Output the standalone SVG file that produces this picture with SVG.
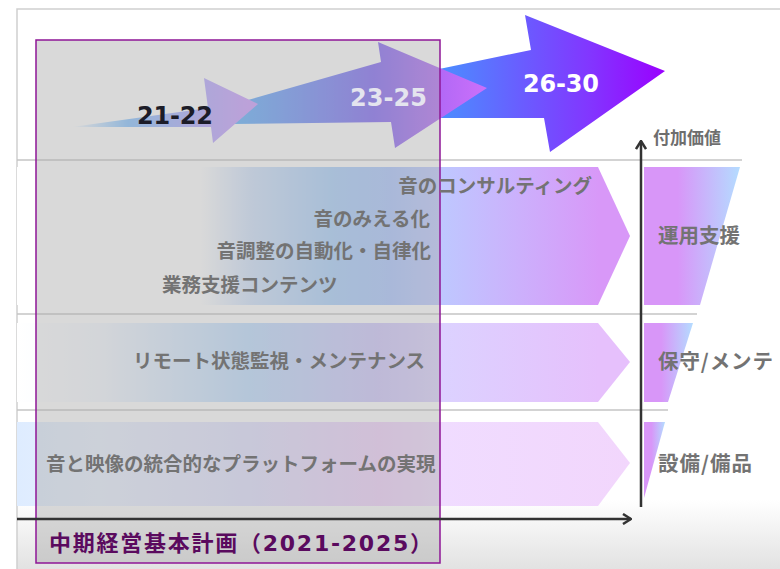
<svg xmlns="http://www.w3.org/2000/svg" width="780" height="569" viewBox="0 0 780 569">
<style>
.frame{fill:none;stroke:#cfcfcf;stroke-width:1.5}
.sep{stroke:#c4c4c4;stroke-width:1.5;fill:none}
.axis{stroke:#333;stroke-width:2.5;fill:none}
.yr{font-family:"DejaVu Sans","Open Sans",sans-serif;font-weight:bold;font-size:24px}
.jp{font-family:"Noto Sans CJK JP","Noto Sans",sans-serif;font-weight:bold;font-size:19.5px;fill:#737373}
.lbl{font-family:"Noto Sans CJK JP","Noto Sans",sans-serif;font-weight:bold;font-size:20.5px;fill:#737373}
.small{font-family:"Noto Sans CJK JP","Noto Sans",sans-serif;font-weight:bold;font-size:17px;fill:#6e6e6e}
.title{font-family:"DejaVu Sans","Noto Sans CJK JP",sans-serif;font-weight:bold;font-size:22px;fill:#5a0a5e}
</style>
<defs>
<linearGradient id="gBottom" x1="0" y1="0" x2="0" y2="1"><stop offset="0" stop-color="#ffffff"/><stop offset="1" stop-color="#e2e2e2"/></linearGradient>
<linearGradient id="gA1" gradientUnits="userSpaceOnUse" x1="72" y1="0" x2="258" y2="0">
<stop offset="0" stop-color="#80c0ff" stop-opacity="0"/>
<stop offset="0.3" stop-color="#80c0ff"/>
<stop offset="0.7" stop-color="#b0a4ff"/>
<stop offset="1" stop-color="#d098ff"/>
</linearGradient>
<linearGradient id="gA2" gradientUnits="userSpaceOnUse" x1="235" y1="0" x2="487" y2="0">
<stop offset="0" stop-color="#58b0fc"/>
<stop offset="0.55" stop-color="#7a60f4"/>
<stop offset="0.8" stop-color="#b068f6"/>
<stop offset="1" stop-color="#cc70fa"/>
</linearGradient>
<linearGradient id="gA3" gradientUnits="userSpaceOnUse" x1="443" y1="0" x2="665" y2="0">
<stop offset="0" stop-color="#4c8cff"/>
<stop offset="0.36" stop-color="#6a5cff"/>
<stop offset="0.66" stop-color="#8236ff"/>
<stop offset="1" stop-color="#9a00ff"/>
</linearGradient>
<linearGradient id="gR1" gradientUnits="userSpaceOnUse" x1="17" y1="0" x2="630" y2="0">
<stop offset="0" stop-color="#ffffff"/>
<stop offset="0.30" stop-color="#ffffff"/>
<stop offset="0.38" stop-color="#d0e2fc"/>
<stop offset="0.515" stop-color="#a6cefc"/>
<stop offset="0.61" stop-color="#a8c4ff"/>
<stop offset="0.69" stop-color="#bec8ff"/>
<stop offset="0.82" stop-color="#ccb0fc"/>
<stop offset="0.95" stop-color="#d898f8"/>
<stop offset="1" stop-color="#d898f8"/>
</linearGradient>
<linearGradient id="gR2" gradientUnits="userSpaceOnUse" x1="17" y1="0" x2="630" y2="0">
<stop offset="0" stop-color="#ffffff"/>
<stop offset="0.135" stop-color="#f4f8ff"/>
<stop offset="0.38" stop-color="#bcdcff"/>
<stop offset="0.59" stop-color="#cec5fc"/>
<stop offset="0.69" stop-color="#dcd2ff"/>
<stop offset="0.95" stop-color="#e6c0fc"/>
<stop offset="1" stop-color="#e6c0fc"/>
</linearGradient>
<linearGradient id="gR3" gradientUnits="userSpaceOnUse" x1="17" y1="0" x2="630" y2="0">
<stop offset="0" stop-color="#deecff"/>
<stop offset="0.135" stop-color="#e8f0ff"/>
<stop offset="0.38" stop-color="#e0e0ff"/>
<stop offset="0.59" stop-color="#f0d0fc"/>
<stop offset="0.69" stop-color="#f0dcff"/>
<stop offset="1" stop-color="#f2d6fc"/>
</linearGradient>
<linearGradient id="gT" x1="0" y1="0" x2="1" y2="0">
<stop offset="0" stop-color="#d896f8"/>
<stop offset="0.35" stop-color="#d896f8"/>
<stop offset="1" stop-color="#b4dcff"/>
</linearGradient>
<marker id="chev" viewBox="0 0 10 12" refX="9" refY="6" markerWidth="10" markerHeight="12" markerUnits="userSpaceOnUse" orient="auto">
<path d="M1,1 L9,6 L1,11" fill="none" stroke="#333" stroke-width="2.5"/>
</marker>
</defs>

<rect x="0" y="0" width="780" height="569" fill="#ffffff"/>
<rect x="17" y="500" width="763" height="69" fill="url(#gBottom)"/>
<path class="frame" d="M17,569 L17,9 L780,9"/>

<g id="row1"><polygon points="17,167 598,167 630,236 598,305 17,305" fill="url(#gR1)"/></g>
<g id="row2"><polygon points="17,323 598,323 630,362 598,402 17,402" fill="url(#gR2)"/></g>
<g id="row3"><polygon points="17,422 598,422 630,463 598,506 17,506" fill="url(#gR3)"/></g>

<g id="lines">
<line class="sep" x1="17" y1="160" x2="742" y2="160"/>
<line class="sep" x1="17" y1="314" x2="697" y2="314"/>
<line class="sep" x1="17" y1="410" x2="668" y2="410"/>
</g>

<g id="arrow-26-30"><polygon points="420,73 531,50 525,15 665,71 550,152 544,118 420,118" fill="url(#gA3)"/></g>
<g id="arrow-23-25"><polygon points="232,124 248,100 381,62 378,42 487,88 395,148 391,122" fill="url(#gA2)"/></g>
<g id="arrow-21-22"><polygon points="72,127 208,108 204,78 258,104 213,143 211,127" fill="url(#gA1)"/></g>

<g id="tier-ops"><polygon points="644,167 740,167 700,305 644,305" fill="url(#gT)"/></g>
<g id="tier-maint"><polygon points="644,323 693,323 668,402 644,402" fill="url(#gT)"/></g>
<g id="tier-equip"><polygon points="644,422 665,422 644,498" fill="url(#gT)"/></g>

<g id="plan-overlay"><rect x="36" y="40" width="404" height="523" fill="#aaaaaa" fill-opacity="0.45" stroke="#8e1696" stroke-width="1.5"/></g>

<g id="connectors">
<line class="axis" x1="17" y1="519" x2="631" y2="519" marker-end="url(#chev)"/>
<line class="axis" x1="641" y1="507" x2="641" y2="141" marker-end="url(#chev)"/>
</g>

<g id="labels">
<text class="yr" x="137" y="124" fill="#1c1c28" textLength="76">21-22</text>
<text class="yr" x="350" y="106" fill="#e4e4ee" textLength="77">23-25</text>
<text class="yr" x="523" y="92" fill="#ffffff" textLength="76">26-30</text>

<text class="jp" x="592" y="193" text-anchor="end">音のコンサルティング</text>
<text class="jp" x="430" y="226" text-anchor="end">音のみえる化</text>
<text class="jp" x="431" y="258" text-anchor="end">音調整の自動化・自律化</text>
<text class="jp" x="162" y="292">業務支援コンテンツ</text>
<text class="jp" x="133" y="368">リモート状態監視・メンテナンス</text>
<text class="jp" x="46" y="471">音と映像の統合的なプラットフォームの実現</text>

<text class="lbl" x="658" y="243" textLength="82">運用支援</text>
<text class="lbl" x="658" y="369" textLength="115" lengthAdjust="spacing">保守/メンテ</text>
<text class="lbl" x="658" y="471" textLength="94" lengthAdjust="spacing">設備/備品</text>
<text class="small" x="653" y="144">付加価値</text>

<text class="title" x="49" y="551" textLength="383" lengthAdjust="spacing">中期経営基本計画（2021-2025）</text>
</g>
</svg>
